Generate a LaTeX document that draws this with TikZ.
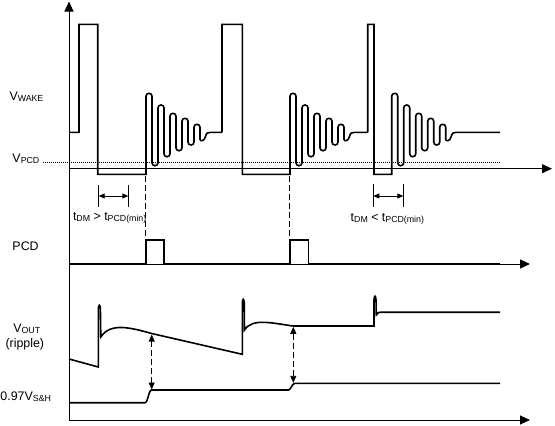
\documentclass[tikz,border=0pt]{standalone}
\usepackage{fontspec}
\setmainfont{Liberation Sans}
\usetikzlibrary{arrows.meta}
\newcommand\sbs[1]{{\fontsize{8.8}{8.8}\selectfont\raisebox{-1.1pt}{#1}}}
\newcommand\wake[3]{\draw[sig] #1 -- (#2,174.3) [rounded corners=2.9pt] -- (#2,93.3) -- ({#2+6},93.3) -- ({#2+6},165.7) -- ({#2+12},165.7) -- ({#2+12},105) -- ({#2+18},105) -- ({#2+18},156.7) -- ({#2+24},156.7) -- ({#2+24},113.3) -- ({#2+30},113.3) -- ({#2+30},150.7) -- ({#2+36},150.7) -- ({#2+36},118.3) -- ({#2+42},118.3) -- ({#2+42},145) -- ({#2+48},145) -- ({#2+48},124.3) -- ({#2+54},124.3) -- ({#2+54},136.5) [sharp corners] .. controls ({#2+54},141.5) and ({#2+58.5},141.5) .. ({#2+59.5},136.5) .. controls ({#2+60.5},133) and ({#2+61.5},132.4) .. ({#2+64},132.4) #3;}
\begin{document}
\begin{tikzpicture}[x=1pt,y=-1pt,
  sig/.style={line width=1.6pt,line join=miter},
  axis/.style={line width=0.9pt},
  axarrow/.style={axis,-{Triangle[length=10pt,width=9pt]}},
  dline/.style={line width=0.9pt,dash pattern=on 6pt off 3pt},
  darr/.style={line width=0.9pt,dash pattern=on 6pt off 3pt,{Triangle[length=7pt,width=6pt]}-{Triangle[length=7pt,width=6pt]}},
  tick/.style={line width=0.9pt},
  tarr/.style={line width=0.9pt,{Triangle[length=6pt,width=5pt]}-{Triangle[length=6pt,width=5pt]}},
  lbl/.style={inner sep=0pt,outer sep=0pt,anchor=base west,font=\fontsize{12.4}{12.4}\selectfont}]
\useasboundingbox (0,0) rectangle (555,426);
% axes
\coordinate (o) at (69,420);
\coordinate (ytop) at (69,1.5);
\draw[axarrow] (o) -- (ytop);
\coordinate (a1s) at (69,168.7); \coordinate (a1e) at (552,168.7);
\draw[axarrow] (a1s) -- (a1e);
\coordinate (a2s) at (69,264); \coordinate (a2e) at (530,264);
\draw[axarrow] (a2s) -- (a2e);
\coordinate (a3e) at (530,420);
\draw[axarrow] (o) -- (a3e);
% VPCD dotted threshold
\coordinate (p1) at (43,162.7); \coordinate (p2) at (500,162.7);
\draw[line width=0.6pt,dash pattern=on 1pt off 1pt] (p1) -- (p2);
% VWAKE waveform
\wake{(69,132.3) -- (79,132.3) -- (79,24.3) -- (97.7,24.3) -- (97.7,174.3)}{146}{-- (222,132.3)}
\wake{(222,132.3) -- (222,24.3) -- (242.3,24.3) -- (242.3,174.3)}{290}{-- (367.7,132.3)}
\wake{(367.7,132.3) -- (367.7,24.3) -- (374,24.3) -- (374,174.3)}{391.7}{-- (500,132.3)}
% dashed verticals
\coordinate (d1a) at (145.3,176); \coordinate (d1b) at (145.3,240);
\coordinate (d2a) at (289.7,176); \coordinate (d2b) at (289.7,240);
\draw[dline] (d1a) -- (d1b);
\draw[dline] (d2a) -- (d2b);
% tDM markers
\coordinate (t1a) at (98.7,185); \coordinate (t1b) at (98.7,206.7);
\coordinate (t2a) at (128.3,185); \coordinate (t2b) at (128.3,206.7);
\draw[tick] (t1a) -- (t1b); \draw[tick] (t2a) -- (t2b);
\coordinate (t1m) at (98.7,196); \coordinate (t2m) at (128.3,196);
\draw[tarr] (t1m) -- (t2m);
\coordinate (t3a) at (373.3,184); \coordinate (t3b) at (373.3,206.7);
\coordinate (t4a) at (403.3,184); \coordinate (t4b) at (403.3,206.7);
\draw[tick] (t3a) -- (t3b); \draw[tick] (t4a) -- (t4b);
\coordinate (t3m) at (373.3,196); \coordinate (t4m) at (403.3,196);
\draw[tarr] (t3m) -- (t4m);
% PCD
\draw[sig] (69,264) -- (146,264) -- (146,240) -- (164,240) -- (164,264) -- (290,264) -- (290,240) -- (308.3,240) -- (308.3,264) -- (500,264);
% VOUT
\draw[sig] (69,359) -- (98.3,367) -- (98.3,309) .. controls (98.4,304) and (100.3,304) .. (100.4,309) -- (100.8,337) .. controls (106,329) and (114,327.3) .. (122,327.5) .. controls (131,327.8) and (141,330.5) .. (151.7,333.5) -- (242.3,354.3) -- (242.3,303) .. controls (242.4,298) and (244.1,298) .. (244.2,303) -- (244.5,330) .. controls (249,323) and (257,322) .. (264,322.3) .. controls (275,322.8) and (285,325) .. (293.3,326) -- (374,326) -- (374,300) .. controls (374.1,295) and (375.9,295) .. (376,300) -- (376.3,315) .. controls (377,312.5) and (379,312.2) .. (383,312.2) -- (500,312.2);
% 0.97 VS&H
\draw[sig] (69,402.7) -- (145,402.7) .. controls (148,402.7) and (148.5,390) .. (151.7,390) -- (288.3,390) .. controls (291,390) and (292,383.3) .. (295,383.3) -- (500,383.3);
% dashed double arrows
\coordinate (r1a) at (151.7,334.5); \coordinate (r1b) at (151.7,389.5);
\coordinate (r2a) at (293.3,326.8); \coordinate (r2b) at (293.3,382.8);
\draw[darr] (r1a) -- (r1b);
\draw[darr] (r2a) -- (r2b);
% labels
\node[lbl] (lwake) at (9.5,100.5) {V\sbs{WAKE}};
\node[lbl] (lpcd) at (12.5,162.5) {V\sbs{PCD}};
\node[lbl] (lpcd2) at (12.5,250) {PCD};
\node[lbl] (lout) at (13.3,332.5) {V\sbs{OUT}};
\node[lbl] (lrip) at (5.5,347) {(ripple)};
\node[lbl] (lsh) at (0.5,400) {0.97V\sbs{S\&H}};
\node[lbl] (ltdm1) at (73,220) {t\sbs{DM} > t\sbs{PCD(min)}};
\node[lbl] (ltdm2) at (350.7,221) {t\sbs{DM} < t\sbs{PCD(min)}};
\end{tikzpicture}
\end{document}
